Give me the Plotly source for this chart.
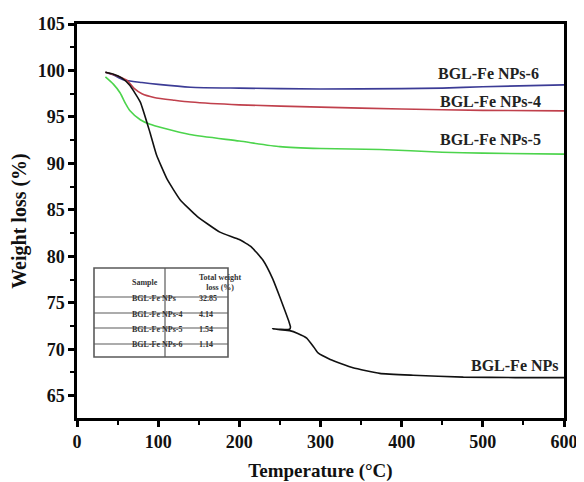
import plotly.graph_objects as go

# ---- data ----
t_np6 = [35, 45, 57, 80, 100, 140, 200, 300, 400, 450, 500, 600]
w_np6 = [99.8, 99.5, 99.0, 98.7, 98.5, 98.2, 98.1, 98.0, 98.05, 98.1, 98.25, 98.45]

t_np4 = [35, 50, 62, 70, 80, 95, 120, 140, 200, 300, 400, 500, 600]
w_np4 = [99.8, 99.4, 98.9, 98.1, 97.5, 97.1, 96.8, 96.6, 96.3, 96.05, 95.85, 95.7, 95.65]

t_np5 = [35, 45, 53, 60, 65, 78, 90, 106, 139, 200, 250, 300, 373, 450, 500, 600]
w_np5 = [99.3, 98.5, 97.6, 96.4, 95.7, 94.7, 94.2, 93.8, 93.1, 92.4, 91.8, 91.6, 91.5, 91.2, 91.1, 91.0]

t_np = [35, 45, 55, 65, 78, 90, 98, 111, 127, 148, 176, 200, 215, 229, 241, 250, 256,
        261, 263, 262, 250, 241, 250, 262, 272, 283, 292, 297, 312, 340, 373, 414,
        476, 540, 600]
w_np = [99.8, 99.6, 99.2, 98.4, 96.6, 93.3, 90.9, 88.3, 86.1, 84.3, 82.6, 81.8, 81.0,
        79.6, 77.6, 75.6, 74.2, 73.0, 72.4, 72.15, 72.15, 72.2, 72.1, 72.0, 71.7, 71.2,
        70.2, 69.6, 68.9, 68.0, 67.4, 67.2, 67.0, 66.95, 66.95]

label_names = ["BGL-Fe NPs-6", "BGL-Fe NPs-4", "BGL-Fe NPs-5", "BGL-Fe NPs"]
label_x = [507, 510, 509, 540]
label_y = [99.7, 96.7, 92.6, 68.3]

table_header = ["Sample", "Total weight<br>loss (%)"]
table_samples = ["BGL-Fe NPs", "BGL-Fe NPs-4", "BGL-Fe NPs-5", "BGL-Fe NPs-6"]
table_loss = ["32.85", "4.14", "1.54", "1.14"]

x_ticks = [0, 100, 200, 300, 400, 500, 600]
y_ticks = [65, 70, 75, 80, 85, 90, 95, 100, 105]

serif = "Liberation Serif"

# page body has an 8px default margin; the figure is sized to fit inside the window
OFF = 8
W, H = 584 - OFF, 482 - OFF

fig = go.Figure()
fig.add_trace(go.Scatter(x=t_np6, y=w_np6, mode="lines", line=dict(color="#3c3c96", width=1.6, shape="spline", smoothing=0.6)))
fig.add_trace(go.Scatter(x=t_np4, y=w_np4, mode="lines", line=dict(color="#c0404c", width=1.6, shape="spline", smoothing=0.6)))
fig.add_trace(go.Scatter(x=t_np5, y=w_np5, mode="lines", line=dict(color="#4cd44c", width=1.6, shape="spline", smoothing=0.6)))
fig.add_trace(go.Scatter(x=t_np, y=w_np, mode="lines", line=dict(color="#111111", width=1.6, shape="spline", smoothing=0.4)))

for name, lx, ly in zip(label_names, label_x, label_y):
    fig.add_annotation(x=lx, y=ly, xref="x", yref="y", text="<b>%s</b>" % name, showarrow=False,
                       font=dict(family=serif, size=16, color="#222222"))

# ---- inset table (geometry in paper fractions of the plot area; reference pixels) ----
PL, PR, PT, PB = 77, 564, 24, 418
def px(v):
    return (v - PL) / (PR - PL)
def py(v):
    return (PB - v) / (PB - PT)

tb_left, tb_right, tb_mid = 94, 228, 165
row_edges = [268, 297, 313, 328, 344, 357]
tcol = "#5a5a5a"
fig.add_shape(type="rect", xref="paper", yref="paper", x0=px(tb_left), x1=px(tb_right),
              y0=py(row_edges[-1]), y1=py(row_edges[0]), line=dict(color=tcol, width=1.6),
              fillcolor="white", layer="above")
for ry in row_edges[1:-1]:
    fig.add_shape(type="line", xref="paper", yref="paper", x0=px(tb_left), x1=px(tb_right),
                  y0=py(ry), y1=py(ry), line=dict(color=tcol, width=1.2), layer="above")
fig.add_shape(type="line", xref="paper", yref="paper", x0=px(tb_mid), x1=px(tb_mid),
              y0=py(row_edges[-1]), y1=py(row_edges[0]), line=dict(color=tcol, width=1.2), layer="above")

tfont = dict(family=serif, size=8, color="#333333")
col_centers = [(tb_left + tb_mid) / 2, (tb_mid + tb_right) / 2]
hdr_y = (row_edges[0] + row_edges[1]) / 2
for cx, txt in zip(col_centers, table_header):
    fig.add_annotation(x=px(cx), y=py(hdr_y), xref="paper", yref="paper", text="<b>%s</b>" % txt,
                       showarrow=False, font=tfont)
for i, (s, v) in enumerate(zip(table_samples, table_loss)):
    cy = (row_edges[i + 1] + row_edges[i + 2]) / 2
    fig.add_annotation(x=px(col_centers[0]), y=py(cy), xref="paper", yref="paper", text="<b>%s</b>" % s,
                       showarrow=False, font=tfont)
    fig.add_annotation(x=px(col_centers[1]), y=py(cy), xref="paper", yref="paper", text="<b>%s</b>" % v,
                       showarrow=False, font=tfont)

axis_common = dict(showline=True, linewidth=2.5, linecolor="black", mirror=True, ticks="outside",
                   ticklen=6, tickwidth=2.5, tickcolor="black", showgrid=False, zeroline=False,
                   automargin=False,
                   tickfont=dict(family=serif, size=18, color="#111111", weight="bold"))

fig.update_xaxes(range=[0, 600], tickvals=x_ticks,
                 minor=dict(dtick=50, tick0=0, ticks="outside", ticklen=4, tickwidth=2, tickcolor="black"),
                 title=dict(text="<b>Temperature (°C)</b>", font=dict(family=serif, size=19, color="#111111")),
                 **axis_common)
fig.update_yaxes(range=[62.6, 105], tickvals=y_ticks,
                 minor=dict(dtick=2.5, tick0=0, ticks="outside", ticklen=4, tickwidth=2, tickcolor="black"),
                 title=dict(text="<b>Weight loss (%)</b>", font=dict(family=serif, size=20, color="#111111")),
                 **axis_common)

fig.update_layout(width=W, height=H,
                  margin=dict(l=PL - OFF, r=584 - PR, t=PT - OFF, b=482 - PB),
                  plot_bgcolor="white", paper_bgcolor="white", showlegend=False)

fig.write_html("out.html")
